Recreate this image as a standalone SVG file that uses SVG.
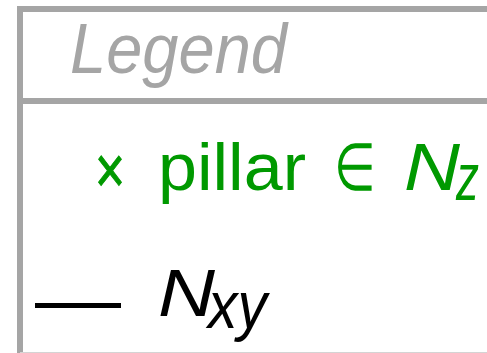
<svg xmlns="http://www.w3.org/2000/svg" width="487" height="353" viewBox="0 0 487 353">
<style>
.frame{fill:none;stroke:#a5a5a5;stroke-width:6}
.title{font-family:"Liberation Sans",Arial,sans-serif;font-style:italic;fill:#a5a5a5;font-size:70px}
.g{font-family:"Liberation Sans",Arial,sans-serif;fill:#009900;font-size:66px}
.k{font-family:"Liberation Sans",Arial,sans-serif;fill:#000;font-size:66px}
.it{font-style:italic}
</style>
<rect width="487" height="353" fill="#fff"/>
<g id="legend">
<path class="frame" d="M20 356 V9 H490"/>
<line class="frame" x1="20" y1="101" x2="490" y2="101"/>
<line x1="20" y1="352.5" x2="487" y2="352.5" stroke="#d4d4d4" stroke-width="1"/>
<text class="title" x="70" y="73" textLength="217" lengthAdjust="spacingAndGlyphs">Legend</text>
</g>
<g id="pillar">
<text class="g" x="95" y="193" font-size="64" stroke="#009900" stroke-width="1" textLength="30" lengthAdjust="spacingAndGlyphs">×</text>
<text class="g" x="158" y="190" textLength="148" lengthAdjust="spacingAndGlyphs">pillar</text>
<text class="g" x="334" y="190" font-size="56" textLength="42" lengthAdjust="spacingAndGlyphs">∈</text>
<text class="g it" x="404" y="190" textLength="56" lengthAdjust="spacingAndGlyphs">N</text>
<text class="g it" x="456" y="200" font-size="44" textLength="23" lengthAdjust="spacingAndGlyphs">z</text>
</g>
<g id="connectors">
<line x1="35" y1="305.5" x2="121" y2="305.5" stroke="#000" stroke-width="5"/>
</g>
<g id="nxy">
<text class="k it" x="158" y="316" textLength="57" lengthAdjust="spacingAndGlyphs">N</text>
<text class="k it" x="208" y="328" font-size="42" textLength="59" lengthAdjust="spacingAndGlyphs">xy</text>
</g>
</svg>
